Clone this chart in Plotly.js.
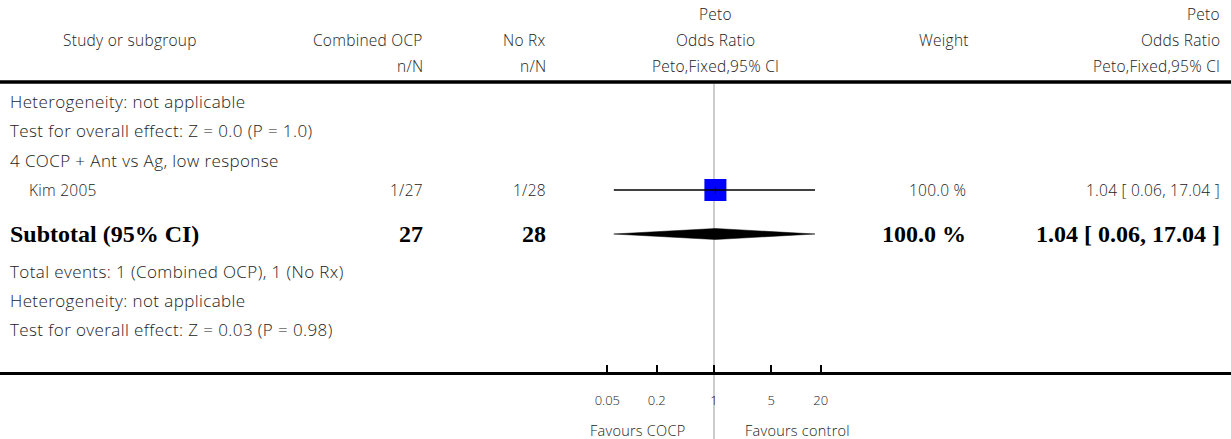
<!DOCTYPE html>
<html>
<head>
<meta charset="utf-8">
<script src="https://cdn.plot.ly/plotly-3.0.1.min.js"></script>
<style>
html,body{margin:0;padding:0;background:#fff;}
#chart{width:1231px;height:439px;}
text.annotation-text[style*="Open Sans"]{letter-spacing:0.25px;}
text.annotation-text[style*="17px"]{letter-spacing:0.4px;}
</style>
</head>
<body>
<div id="chart"></div>
<script>
// ---- data ----
const studies = ['Kim 2005'];
const eventsT = [1];
const totalT = [27];
const eventsC = [1];
const totalC = [28];
const studyOR = [1.04];
const studyLo = [0.06];
const studyHi = [17.04];
const studyWeight = [100.0];
const subtotalOR = 1.04;
const subtotalLo = 0.06;
const subtotalHi = 17.04;
const subtotalWeight = 100.0;
const tickValues = [0.05, 0.2, 1, 5, 20];
const tickLabels = ['0.05', '0.2', '1', '5', '20'];
const groupLabel = '4 COCP + Ant vs Ag, low response';
const prevHetText = 'Heterogeneity: not applicable';
const prevTestText = 'Test for overall effect: Z = 0.0 (P = 1.0)';
const hetText = 'Heterogeneity: not applicable';
const testText = 'Test for overall effect: Z = 0.03 (P = 0.98)';
const leftLabel = 'Favours COCP';
const rightLabel = 'Favours control';

// ---- layout constants (pixels) ----
const W = 1231, H = 439;
const CENTER_PX = 714, PX_PER_DECADE = 82;
const AXIS_Y = 373;
const ROW = {h1: 14, h2: 40, h3: 66, het0: 101, test0: 130, group: 160, study: 190, sub: 234, tot: 271, het: 300, test: 329, fav: 430};
const COL = {studyLeft: 8, studyIndent: 27, hdrStudy: 130, t: 425, c: 548, forest: 715, w: 968, wHdr: 944, ci: 1222};

const headFont = {family: '"Open Sans", Lato, sans-serif', size: 15.5, color: '#222', weight: 300};
const sansFont = {family: '"Open Sans", Lato, sans-serif', size: 17, color: '#222', weight: 300};
const boldFont = {family: '"Liberation Serif", "DejaVu Serif", serif', size: 24, color: '#000', weight: 'bold'};

const px = v => v / W;
const fmt2 = v => v.toFixed(2);
const ciText = (o, l, h) => `${fmt2(o)} [ ${fmt2(l)}, ${fmt2(h)} ]`;

const ann = [];
function txt(text, x, y, align, font) {
  ann.push({text: text, x: px(x), y: y, xref: 'paper', yref: 'y', xanchor: align, yanchor: 'middle',
    showarrow: false, font: font || sansFont});
}
// header
txt('(Continued)', COL.ci, -5, 'right', headFont);
txt('Peto', COL.forest, ROW.h1, 'center', headFont);
txt('Odds Ratio', COL.forest, ROW.h2, 'center', headFont);
txt('Peto', COL.ci, ROW.h1, 'right', headFont);
txt('Odds Ratio', COL.ci, ROW.h2, 'right', headFont);
txt('Study or subgroup', COL.hdrStudy, ROW.h2, 'center', headFont);
txt('Combined OCP', COL.t, ROW.h2, 'right', headFont);
txt('No Rx', COL.c, ROW.h2, 'right', headFont);
txt('Weight', COL.wHdr, ROW.h2, 'center', headFont);
txt('n/N', COL.t, ROW.h3, 'right', headFont);
txt('n/N', COL.c, ROW.h3, 'right', headFont);
txt('Peto,Fixed,95% CI', COL.forest, ROW.h3, 'center', headFont);
txt('Peto,Fixed,95% CI', COL.ci, ROW.h3, 'right', headFont);
// body
txt(prevHetText, COL.studyLeft, ROW.het0, 'left');
txt(prevTestText, COL.studyLeft, ROW.test0, 'left');
txt(groupLabel, COL.studyLeft, ROW.group, 'left');
studies.forEach((s, i) => {
  txt(s, COL.studyIndent, ROW.study, 'left', headFont);
  txt(`${eventsT[i]}/${totalT[i]}`, COL.t, ROW.study, 'right', headFont);
  txt(`${eventsC[i]}/${totalC[i]}`, COL.c, ROW.study, 'right', headFont);
  txt(`${studyWeight[i].toFixed(1)} %`, COL.w, ROW.study, 'right', headFont);
  txt(ciText(studyOR[i], studyLo[i], studyHi[i]), COL.ci, ROW.study, 'right', headFont);
});
const sumT = totalT.reduce((a, b) => a + b, 0);
const sumC = totalC.reduce((a, b) => a + b, 0);
const evT = eventsT.reduce((a, b) => a + b, 0);
const evC = eventsC.reduce((a, b) => a + b, 0);
txt('Subtotal (95% CI)', COL.studyLeft, ROW.sub, 'left', boldFont);
txt(String(sumT), COL.t, ROW.sub, 'right', boldFont);
txt(String(sumC), COL.c, ROW.sub, 'right', boldFont);
txt(`${subtotalWeight.toFixed(1)} %`, COL.w, ROW.sub, 'right', boldFont);
txt(ciText(subtotalOR, subtotalLo, subtotalHi), COL.ci, ROW.sub, 'right', boldFont);
txt(`Total events: ${evT} (Combined OCP), ${evC} (No Rx)`, COL.studyLeft, ROW.tot, 'left');
txt(hetText, COL.studyLeft, ROW.het, 'left');
txt(testText, COL.studyLeft, ROW.test, 'left');
// favours labels (x in log10 units on the log axis)
const favFont = Object.assign({}, headFont, {size: 14.5});
ann.push({text: leftLabel, x: Math.log10(1), y: ROW.fav, xref: 'x', yref: 'y', xanchor: 'right', yanchor: 'middle',
  xshift: -27, showarrow: false, font: favFont});
ann.push({text: rightLabel, x: Math.log10(1), y: ROW.fav, xref: 'x', yref: 'y', xanchor: 'left', yanchor: 'middle',
  xshift: 29, showarrow: false, font: favFont});

// ---- traces ----
const traces = [];
traces.push({type: 'scatter', mode: 'markers', x: studyOR, y: studies.map(() => ROW.study),
  marker: {symbol: 'square', size: 22, color: '#0000ff'}, hoverinfo: 'skip', showlegend: false});
studies.forEach((s, i) => {
  traces.push({type: 'scatter', mode: 'lines', x: [studyLo[i], studyHi[i]], y: [ROW.study, ROW.study],
    line: {color: '#000', width: 1.5}, hoverinfo: 'skip', showlegend: false});
});
traces.push({type: 'scatter', mode: 'markers', x: studyOR, y: studies.map(() => ROW.study),
  marker: {symbol: 'line-ns', size: 5, line: {color: '#000', width: 1}}, hoverinfo: 'skip', showlegend: false});
const DH = 5.5;
traces.push({type: 'scatter', mode: 'lines', fill: 'toself', fillcolor: '#000',
  x: [subtotalLo, subtotalOR, subtotalHi, subtotalOR, subtotalLo],
  y: [ROW.sub, ROW.sub - DH, ROW.sub, ROW.sub + DH, ROW.sub],
  line: {color: '#000', width: 0.5}, hoverinfo: 'skip', showlegend: false});

const leftLog = (0 - CENTER_PX) / PX_PER_DECADE;
const rightLog = (W - CENTER_PX) / PX_PER_DECADE;

const layout = {
  width: W, height: H,
  margin: {l: 0, r: 0, t: 0, b: 0},
  paper_bgcolor: '#fff', plot_bgcolor: '#fff',
  showlegend: false,
  xaxis: {type: 'log', range: [leftLog, rightLog], domain: [0, 1], anchor: 'free', position: 1 - AXIS_Y / H,
    showline: true, linecolor: '#000', linewidth: 3, showgrid: false, zeroline: false,
    tickmode: 'array', tickvals: tickValues, ticktext: tickLabels,
    ticks: 'inside', ticklen: 7, tickwidth: 2, tickcolor: '#000',
    ticklabelstandoff: 14,
    tickfont: {family: headFont.family, size: 13, color: '#222', weight: 300}, fixedrange: true},
  yaxis: {range: [H, 0], domain: [0, 1], visible: false, showgrid: false, zeroline: false, fixedrange: true},
  shapes: [
    {type: 'line', xref: 'paper', yref: 'y', x0: 0, x1: 1, y0: 82, y1: 82, line: {color: '#000', width: 3.5}},
    {type: 'line', xref: 'x', yref: 'y', x0: 1, x1: 1, y0: 84, y1: H, line: {color: '#aaa', width: 1.2}, layer: 'below'}
  ],
  annotations: ann
};

Plotly.newPlot('chart', traces, layout, {staticPlot: true, displayModeBar: false});
</script>
</body>
</html>
